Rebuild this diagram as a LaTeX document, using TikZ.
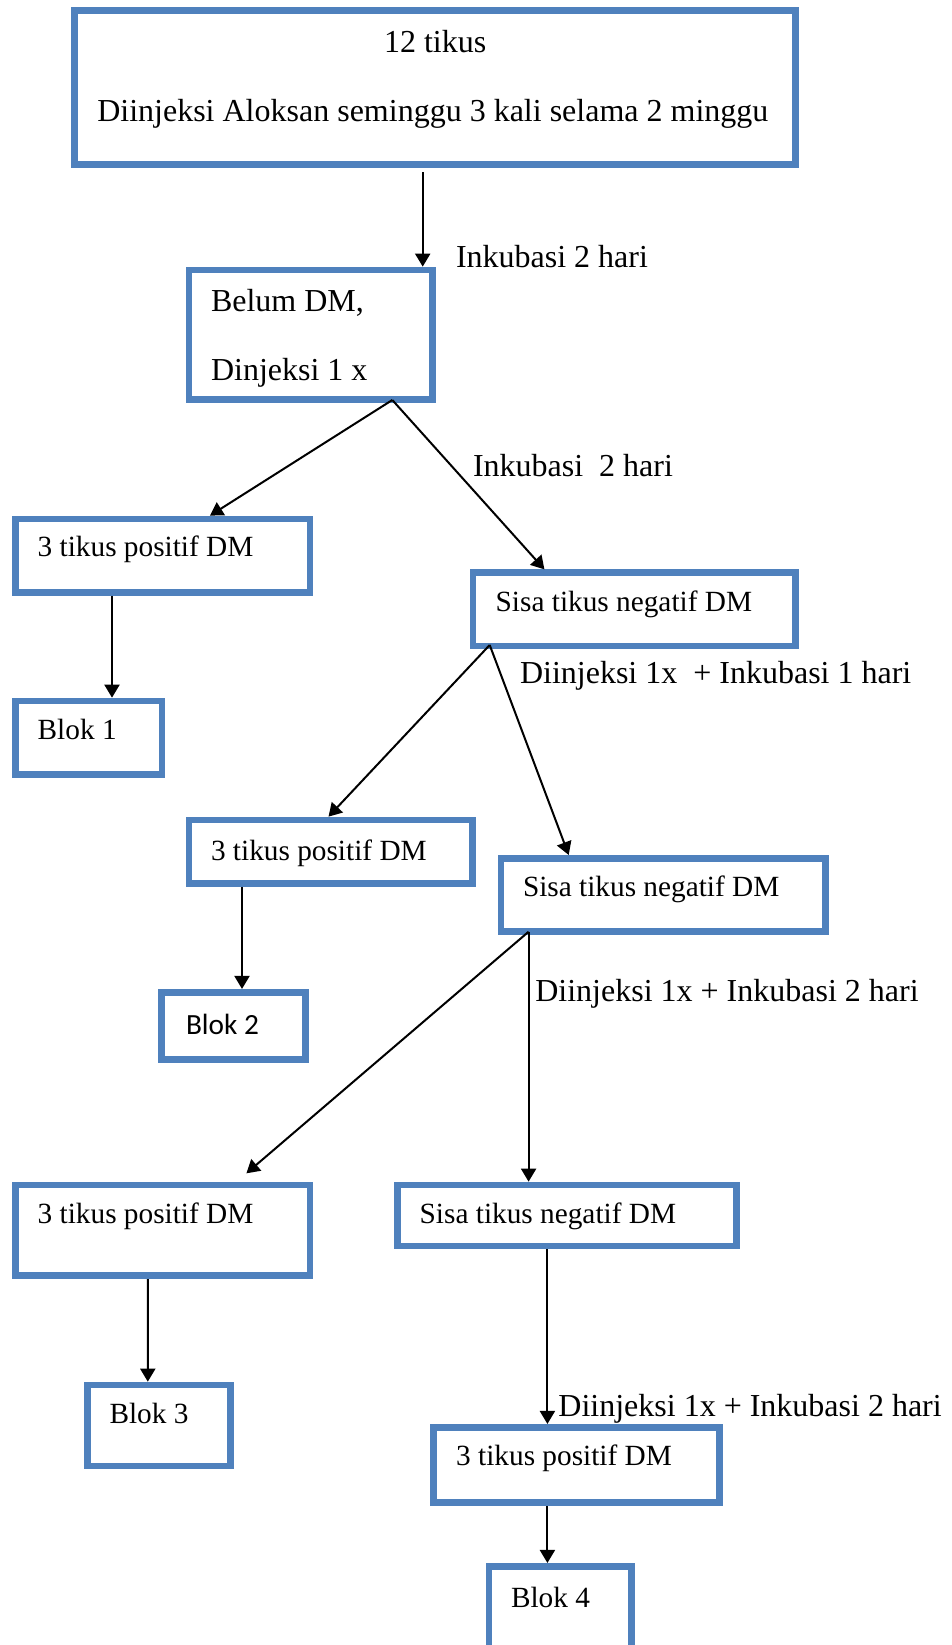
\documentclass[tikz,border=0pt]{standalone}
\usepackage{fontspec}
\setmainfont{Liberation Serif}
\newfontfamily\calibfont{Carlito}
\usetikzlibrary{arrows.meta}
\definecolor{boxblue}{HTML}{4F81BD}
\begin{document}
\begin{tikzpicture}[x=1pt,y=-1pt,
  bx/.style={draw=boxblue,line width=6.7pt,inner sep=0pt,outer sep=3.35pt,rectangle,anchor=north west},
  tx/.style={inner sep=0pt,outer sep=0pt,anchor=base west,font=\fontsize{32}{38}\selectfont},
  ts/.style={inner sep=0pt,outer sep=0pt,anchor=base west,font=\fontsize{29.3}{35}\selectfont},
  tk/.style={inner sep=0pt,outer sep=0pt,anchor=base west,font=\calibfont\fontsize{29.3}{35}\selectfont},
  arr/.style={line width=2pt,-{Triangle[width=15pt,length=13pt]}}]
\useasboundingbox (0,0) rectangle (952,1645);
\clip (0,0) rectangle (952,1645);
\fill[white] (0,0) rectangle (952,1645);

% boxes
\node[bx,minimum width=721pt,minimum height=154pt] (A) at (71.15,7.35) {};
\node[bx,minimum width=243.5pt,minimum height=129.3pt] (B) at (185.65,266.65) {};
\node[bx,minimum width=294.5pt,minimum height=73.4pt] (C) at (12.15,515.65) {};
\node[bx,minimum width=146.5pt,minimum height=73.4pt] (K1) at (12.15,697.65) {};
\node[bx,minimum width=322.4pt,minimum height=73.3pt] (D) at (469.65,569.35) {};
\node[bx,minimum width=283.4pt,minimum height=63.4pt] (E) at (185.65,816.65) {};
\node[bx,minimum width=144.4pt,minimum height=67.4pt] (K2) at (157.95,988.95) {};
\node[bx,minimum width=324.7pt,minimum height=73.4pt] (F) at (497.65,854.95) {};
\node[bx,minimum width=294.5pt,minimum height=90.7pt] (G) at (12.15,1181.65) {};
\node[bx,minimum width=339pt,minimum height=61pt] (H) at (394.15,1181.65) {};
\node[bx,minimum width=143pt,minimum height=81pt] (K3) at (83.95,1381.65) {};
\node[bx,minimum width=286pt,minimum height=75.4pt] (I) at (429.95,1423.95) {};
\node[bx,minimum width=142.7pt,minimum height=140pt] (K4) at (485.65,1562.95) {};

% texts
\node[tx] (tA1) at (384,53) {12 tikus};
\node[tx] (tA2) at (97.3,121.7) {Diinjeksi Aloksan seminggu 3 kali selama 2 minggu};
\node[tx] (tB1) at (211,311.7) {Belum DM,};
\node[tx] (tB2) at (211,380) {Dinjeksi 1 x};
\node[ts] (tC) at (37.7,556.7) {3 tikus positif DM};
\node[ts] (tK1) at (37.7,739.3) {Blok 1};
\node[ts] (tD) at (495.7,611.7) {Sisa tikus negatif DM};
\node[ts] (tE) at (211,860) {3 tikus positif DM};
\node[tk] (tK2) at (186,1034) {Blok 2};
\node[ts] (tF) at (523,896.7) {Sisa tikus negatif DM};
\node[ts] (tG) at (37.7,1223.3) {3 tikus positif DM};
\node[ts] (tH) at (419.7,1223.3) {Sisa tikus negatif DM};
\node[ts] (tK3) at (109.5,1423.3) {Blok 3};
\node[ts] (tI) at (456.2,1465) {3 tikus positif DM};
\node[ts] (tK4) at (511,1607) {Blok 4};

% connector labels
\node[tx] (l1) at (456,268) {Inkubasi 2 hari};
\node[tx] (l2) at (473,476) {Inkubasi~~2 hari};
\node[tx] (l3) at (520,683.3) {Diinjeksi 1x~~+ Inkubasi 1 hari};
\node[tx] (l4) at (535.3,1001.7) {Diinjeksi 1x + Inkubasi 2 hari};
\node[tx] (l5) at (558.4,1416.7) {Diinjeksi 1x + Inkubasi 2 hari};

% connectors
\draw[arr] ([xshift=351.55pt,yshift=-4pt]A.south west) -- ([xshift=237.05pt]B.north west);
\draw[arr] ([xshift=206.65pt,yshift=2.65pt]B.south west) -- ([xshift=197.75pt]C.north west);
\draw[arr] ([xshift=206.65pt,yshift=2.65pt]B.south west) -- ([xshift=74.75pt]D.north west);
\draw[arr] ([xshift=99.85pt]C.south west) -- ([xshift=99.85pt]K1.north west);
\draw[arr] ([xshift=20.05pt,yshift=4.35pt]D.south west) -- ([xshift=142.85pt]E.north west);
\draw[arr] ([xshift=20.05pt,yshift=4.35pt]D.south west) -- ([xshift=71.05pt]F.north west);
\draw[arr] ([xshift=56.35pt]E.south west) -- ([xshift=84.05pt]K2.north west);
\draw[arr] ([xshift=30.95pt,yshift=3.35pt]F.south west) -- ([xshift=234.25pt,yshift=8.35pt]G.north west);
\draw[arr] ([xshift=30.95pt,yshift=3.35pt]F.south west) -- ([xshift=134.45pt]H.north west);
\draw[arr] ([xshift=135.65pt]G.south west) -- ([xshift=63.85pt]K3.north west);
\draw[arr] ([xshift=153.25pt]H.south west) -- ([xshift=117.45pt]I.north west);
\draw[arr] ([xshift=117.45pt]I.south west) -- ([xshift=61.75pt]K4.north west);
\end{tikzpicture}
\end{document}
